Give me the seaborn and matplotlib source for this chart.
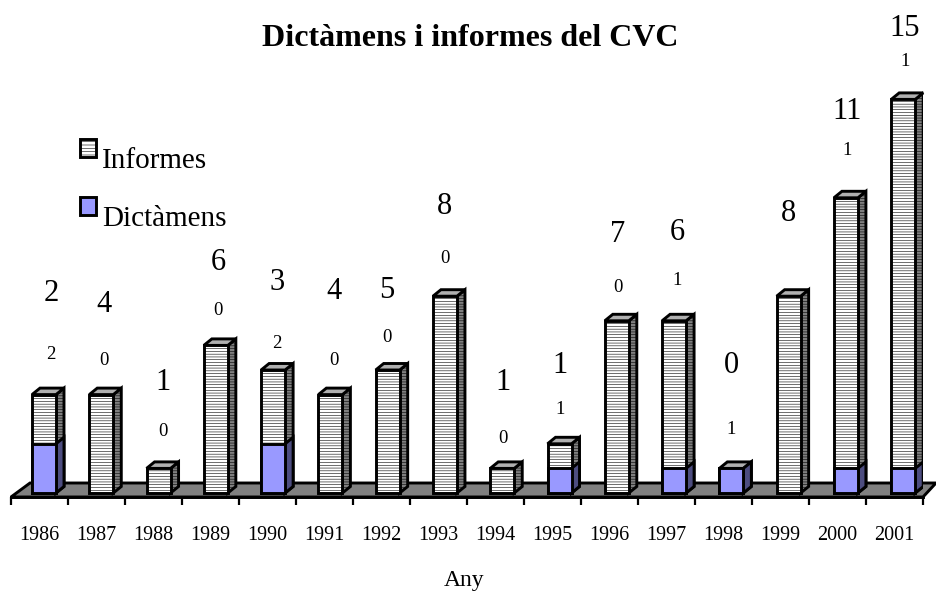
import matplotlib
matplotlib.use("Agg")
import matplotlib.pyplot as plt
from matplotlib.patches import Patch, Polygon
import numpy as np
import pandas as pd
import seaborn as sns

anys = [1986,1987,1988,1989,1990,1991,1992,1993,1994,1995,1996,1997,1998,1999,2000,2001]
informes = [2,4,1,6,3,4,5,8,1,1,7,6,0,8,11,15]
dictamens = [2,0,0,0,2,0,0,0,0,1,0,1,1,0,1,1]
dictamens_label = ["2","0","0","0","2","0","0","0","0","1","0","1","1","","1","1"]

# label placement, pixels relative to slot centre / top of stack
big_dx = [11.5,7.5,9.5,7.5,9.5,9.5,5.5,6.5,7.5,7.5,8.5,10.5,7.5,8.5,9.5,10.5]
big_dy = [102,91,87,84,88,104,81,91,87,79,87,89,104,84,87,72]
small_dy = [40,34,37,35,26,34,33,38,30,34,33,40,39,0,47,38]

sns.set_theme(style="white")
plt.rcParams["font.family"] = ["Liberation Serif", "DejaVu Serif"]
plt.rcParams["hatch.linewidth"] = 0.4
plt.rcParams["hatch.color"] = "#a0a0a0"

W, H = 936, 592
fig = plt.figure(figsize=(W/100, H/100), dpi=100)
PX_U = 24.6; PX_X = 57.0
ax = fig.add_axes([11/W, 1-497/H, 16*PX_X/W, 497/H])

df = pd.DataFrame({"Any": anys, "Informes": informes, "Dictamens": dictamens})
df["Total"] = df["Informes"] + df["Dictamens"]

BLUE = "#9999ff"; BLUE_S = "#4d4d80"; TOP = "#b0b0b0"; SIDE = "#808080"
LW = 2.1
W_BAR = 24/PX_X; SHIFT = 4.5/PX_X; DRIFT = 0.28/PX_X; DX = 8/PX_X; DY = 6.5/PX_U

ax.set_xlim(-0.5, 15.5)
ax.set_ylim(-4/PX_U, 493/PX_U)

floor = Polygon([(-0.5, -4/PX_U), (-0.5+19/PX_X, 10/PX_U), (15.5+13/PX_X, 10/PX_U), (15.5, -4/PX_U)],
                closed=True, fc="#808080", ec="black", lw=LW, clip_on=False, zorder=1)
ax.add_patch(floor)

sns.barplot(data=df, x="Any", y="Total", color="white", width=W_BAR, saturation=1,
            edgecolor="black", linewidth=LW, hatch="------", ax=ax, zorder=3)
sns.barplot(data=df, x="Any", y="Dictamens", color=BLUE, width=W_BAR, saturation=1,
            edgecolor="black", linewidth=LW, ax=ax, zorder=4)
n = len(anys)
bars = [b for b in ax.patches if b is not floor]
for i, p in enumerate(bars):
    slot = i % n
    p.set_x(p.get_x() + SHIFT + slot*DRIFT)
    x0, x1, y1 = p.get_x(), p.get_x()+p.get_width(), p.get_height()
    if y1 == 0:
        p.set_visible(False)
        continue
    is_blue = i >= n
    side = Polygon([(x1,0),(x1+DX,DY),(x1+DX,y1+DY),(x1,y1)], closed=True,
                   fc=BLUE_S if is_blue else SIDE, ec="black", lw=LW, zorder=3.5 if is_blue else 2.5,
                   hatch=None if is_blue else "------")
    ax.add_patch(side)
    if not is_blue:
        ax.add_patch(Polygon([(x0,y1),(x0+DX,y1+DY),(x1+DX,y1+DY),(x1,y1)], closed=True,
                             fc=TOP, ec="black", lw=LW, zorder=2.5, clip_on=False))

# data labels
for i in range(n):
    top = df["Total"][i]
    ax.annotate(str(informes[i]), (i, top), xytext=(big_dx[i]*.72, (big_dy[i]-1)*.72), textcoords="offset points",
                ha="center", va="center", fontsize=22, color="black", annotation_clip=False)
    if dictamens_label[i]:
        ax.annotate(dictamens_label[i], (i, top), xytext=(big_dx[i]*.72, small_dy[i]*.72), textcoords="offset points",
                    ha="center", va="center", fontsize=13.5, color="black", annotation_clip=False)

sns.despine(ax=ax, left=True, top=True, right=True)
ax.spines["bottom"].set_linewidth(LW); ax.spines["bottom"].set_color("black")
ax.set_yticks([])
ax.set_ylabel("")
ax.set_xticks(range(n)); ax.set_xticklabels([str(a) for a in anys], fontsize=14.5, color="black")
ax.set_xticks(np.arange(-0.5, n), minor=True)
ax.tick_params(axis="x", which="major", length=0, pad=21)
ax.tick_params(axis="x", which="minor", length=5.5, width=1.6, color="black", bottom=True)
ax.set_xlabel("Any", fontsize=17, color="black", labelpad=18)
ax.xaxis.label.set_x((464-11)/(16*PX_X))
ax.set_xlim(-0.5, 15.5)
ax.patch.set_alpha(0)

fig.text(470/W, 1-38/H, "Dictàmens i informes del CVC", ha="center", va="center",
         fontsize=23, fontweight="bold", color="black")

handles = [Patch(fc="white", ec="black", lw=LW, hatch="-----"), Patch(fc=BLUE, ec="black", lw=LW)]
leg = ax.legend(handles, ["Informes", "Dictàmens"], loc="upper left", bbox_to_anchor=(80/W, 1-148/H),
          bbox_transform=fig.transFigure, frameon=False, fontsize=21, handlelength=0.55, handleheight=0.55,
          handletextpad=0.2, labelspacing=1.1, borderaxespad=0, borderpad=0, labelcolor="black")
for h in leg.legend_handles:
    h.set_y(h.get_y() + 7)

fig.savefig("out.png", dpi=100)
